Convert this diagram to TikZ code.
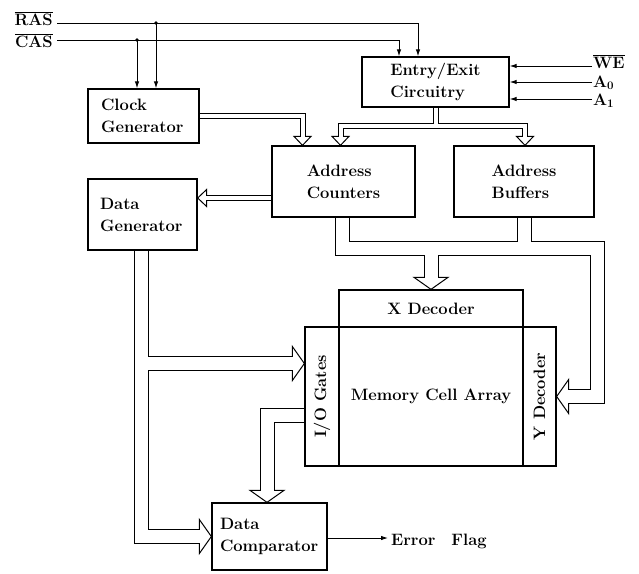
\documentclass[tikz,border=0pt]{standalone}
\usepackage{fontspec}
\usetikzlibrary{arrows.meta,calc}
\pgfdeclarelayer{background}
\pgfsetlayers{background,main}

% bus outlines: black stroke first, white core afterwards, so junctions merge
\newcommand\buspaths[2]{%
  % narrow buses
  \draw[#1] (clock.east) -| (302.5,137);
  \draw[#1] (entry.south) |- (340.5,125.5) -- (340.5,137);
  \draw[#1] (entry.south) |- (525,125.5) -- (525,137);
  \draw[#1] (cnt.west |- 0,198) -- (206,198);
  % wide buses
  \draw[#2] (cnt.south -| 342.5,0) |- (597.5,248.5) -- (597.5,396.5) -- (568,396.5);
  \draw[#2] (buf.south -| 524.5,0) -- (524.5,248.5);
  \draw[#2] (431,248.5) -- (431,278);
  \draw[#2] (dg.south -| 141,0) |- (200,536.5);
  \draw[#2] (141,363.5) -- (293,363.5);
  \draw[#2] (io.north |- 0,415) -| (267,491);
}

\begin{document}
\begin{tikzpicture}[x=1pt,y=-1pt,
  txt/.style={font=\bfseries\fontsize{16.5}{22}\selectfont},
  blockbox/.style={txt, draw, line width=1.3pt, inner sep=0pt},
  lbl/.style={txt, inner sep=1pt},
  sig/.style={line width=0.9pt, -{Latex[length=7pt,width=4.5pt]}},
  narrowo/.style={line width=6pt, line join=miter},
  narrowi/.style={line width=4pt, white, line join=miter},
  wideo/.style={line width=15pt, line join=miter},
  widei/.style={line width=13pt, white, line join=miter},
  widehead/.pic={\draw[line width=1pt, line join=miter]
      (-12,7) -- (-12,17) -- (0,0) -- (-12,-17) -- (-12,-7);},
  narrowhead/.pic={\draw[line width=1pt, line join=miter]
      (-9,2.5) -- (-9,8.5) -- (0,0) -- (-9,-8.5) -- (-9,-2.5);},
]
\useasboundingbox (0,0) rectangle (639,573);

% functional blocks
\node[blockbox, minimum width=111, minimum height=54, text width=85, align=left]
  (clock) at (143.5,116) {Clock\\Generator};
\node[blockbox, minimum width=109, minimum height=71, text width=85, align=left]
  (dg) at (142.5,214.5) {Data\\Generator};
\node[blockbox, minimum width=147, minimum height=50, align=left]
  (entry) at (435.5,82) {Entry/Exit\\Circuitry};
\node[blockbox, minimum width=143, minimum height=71, align=left]
  (cnt) at (343.5,181.5) {Address\\Counters};
\node[blockbox, minimum width=140, minimum height=71, align=left]
  (buf) at (524,181.5) {Address\\Buffers};
\node[blockbox, minimum width=115, minimum height=67, text width=99, align=left]
  (comp) at (269.5,536.5) {Data\\Comparator};

% memory array with its decoders and gates
\node[blockbox, minimum width=184, minimum height=37] (xdec) at (431,308.5) {X Decoder};
\node[blockbox, minimum width=184, minimum height=139] (mem) at (431,396.5) {Memory Cell Array};
\node[blockbox, rotate=90, minimum width=139, minimum height=34] (io) at (322,396.5) {I/O Gates};
\node[blockbox, rotate=90, minimum width=139, minimum height=33] (ydec) at (539.5,396.5) {Y Decoder};

% control signal labels
\node[lbl, anchor=base east] (ras) at (54,25) {$\overline{\hbox{RAS}}$};
\node[lbl, anchor=base east] (cas) at (54,47) {$\overline{\hbox{CAS}}$};
\node[lbl, anchor=base west] (we) at (592,68) {$\overline{\hbox{WE}}$};
\node[lbl, anchor=base west] (a0) at (592,87) {A\textsubscript{0}};
\node[lbl, anchor=base west] (a1) at (592,105) {A\textsubscript{1}};
\node[lbl, anchor=base west, inner sep=3pt] (err) at (388,545) {Error\hspace{16pt}Flag};

% RAS / CAS distribution
\coordinate (rasstart) at (57,23);
\coordinate (casstart) at (57,40);
\coordinate (rasdot) at (156,23);
\coordinate (casdot) at (137,40);
\draw[sig] (rasstart) -| (entry.north -| 418,0);
\draw[sig] (casstart) -| (entry.north -| 399,0);
\draw[sig] (rasdot) -- (clock.north -| rasdot);
\draw[sig] (casdot) -- (clock.north -| casdot);
\fill (rasdot) circle[radius=1.8pt];
\fill (casdot) circle[radius=1.8pt];

% external inputs and output
\draw[sig] (we.west |- 0,66) -- (entry.east |- 0,66);
\draw[sig] (a0.west |- 0,82) -- (entry.east |- 0,82);
\draw[sig] (a1.west |- 0,99) -- (entry.east |- 0,99);
\draw[sig] (comp.east |- 0,538) -- (err.west |- 0,538);

% data and address buses
\begin{pgfonlayer}{background}
  \buspaths{narrowo}{wideo}
  \buspaths{narrowi}{widei}
  \pic[rotate=-90] at (cnt.north -| 302.5,0) {narrowhead};
  \pic[rotate=-90] at (cnt.north -| 340.5,0) {narrowhead};
  \pic[rotate=-90] at (buf.north -| 525,0) {narrowhead};
  \pic[rotate=180] at (dg.east |- 0,198) {narrowhead};
  \pic[rotate=-90] at (xdec.north) {widehead};
  \pic[rotate=180] at (ydec.south) {widehead};
  \pic at (io.north |- 0,363.5) {widehead};
  \pic at (comp.west) {widehead};
  \pic[rotate=-90] at (comp.north -| 267,0) {widehead};
\end{pgfonlayer}
\end{tikzpicture}
\end{document}
